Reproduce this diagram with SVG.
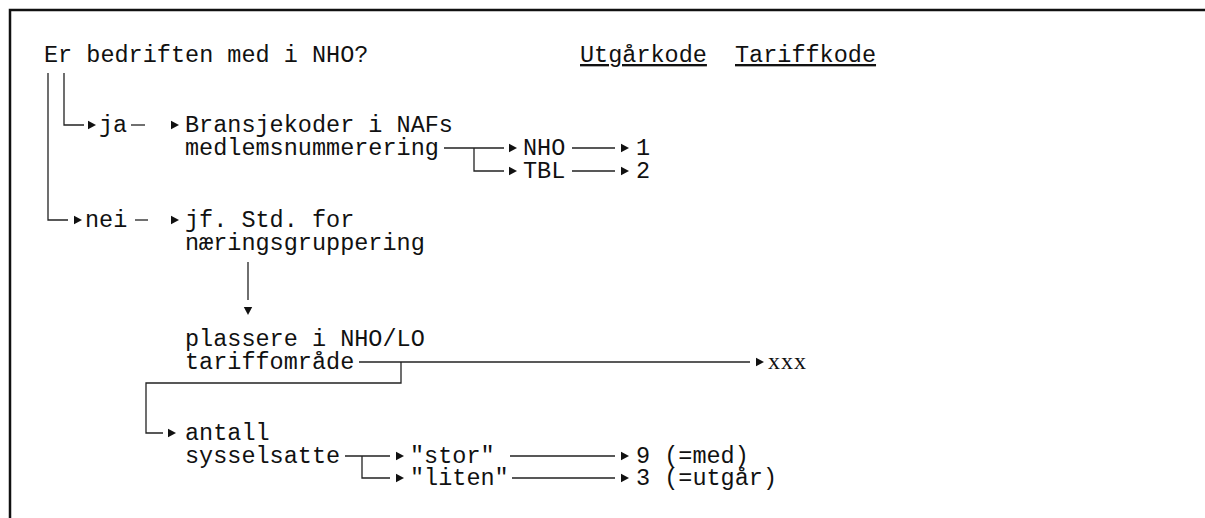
<svg xmlns="http://www.w3.org/2000/svg" xmlns:xlink="http://www.w3.org/1999/xlink" width="1205" height="518" viewBox="0 0 1205 518">
<style>
.t{font-family:"Liberation Mono","Courier New",monospace;font-size:23.5px;fill:#111}
.u{text-decoration:underline}
.x{font-family:"Liberation Serif","Times New Roman",serif;font-size:24px;fill:#111;letter-spacing:1px}
.c{stroke:#222;stroke-width:1.3;fill:none}
.b{stroke:#111;stroke-width:2.5;fill:none}
.ah{fill:#111}
</style>
<defs>
<path id="ah" class="ah" d="M0,-4.2 L8,0 L0,4.2 Z"/>
<path id="ahd" class="ah" d="M-4.2,0 L4.2,0 L0,8 Z"/>
</defs>
<rect width="1205" height="518" fill="#fff"/>
<path class="b" d="M10,518 V10 H1205"/>
<g id="q"><text class="t" x="44" y="62">Er bedriften med i NHO?</text></g>
<g id="h1"><text class="t u" x="580" y="62">Utgårkode</text></g>
<g id="h2"><text class="t u" x="735" y="62">Tariffkode</text></g>
<g id="ja"><text class="t" x="99" y="132">ja</text></g>
<g id="bransje"><text class="t" x="185" y="132">Bransjekoder i NAFs</text><text class="t" x="185" y="155">medlemsnummerering</text></g>
<g id="nho"><text class="t" x="523" y="155">NHO</text></g>
<g id="tbl"><text class="t" x="523" y="178">TBL</text></g>
<g id="k1"><text class="t" x="636" y="155">1</text></g>
<g id="k2"><text class="t" x="636" y="178">2</text></g>
<g id="nei"><text class="t" x="85" y="227">nei</text></g>
<g id="std"><text class="t" x="185" y="227">jf. Std. for</text><text class="t" x="185" y="250">næringsgruppering</text></g>
<g id="plassere"><text class="t" x="185" y="346">plassere i NHO/LO</text><text class="t" x="185" y="369">tariffområde</text></g>
<g id="xxx"><text class="x" x="768" y="369">xxx</text></g>
<g id="antall"><text class="t" x="185" y="440">antall</text><text class="t" x="185" y="463">sysselsatte</text></g>
<g id="stor"><text class="t" x="410" y="463">"stor"</text></g>
<g id="liten"><text class="t" x="410" y="485">"liten"</text></g>
<g id="k9"><text class="t" x="636" y="463">9 (=med)</text></g>
<g id="k3"><text class="t" x="636" y="485">3 (=utgår)</text></g>
<g id="connectors">
<path class="c" d="M64,73 V125 H84"/>
<use href="#ah" x="88" y="125"/>
<path class="c" d="M131,125 H145"/>
<use href="#ah" x="171" y="125"/>
<path class="c" d="M48,73 V220 H68"/>
<use href="#ah" x="74" y="220"/>
<path class="c" d="M135,220 H148"/>
<use href="#ah" x="171" y="220"/>
<path class="c" d="M444,148 H504 M474,148 V171 H504"/>
<use href="#ah" x="509" y="148"/>
<use href="#ah" x="509" y="171"/>
<path class="c" d="M572,148 H615 M572,171 H615"/>
<use href="#ah" x="621" y="148"/>
<use href="#ah" x="621" y="171"/>
<path class="c" d="M248,262 V300"/>
<use href="#ahd" x="248" y="307"/>
<path class="c" d="M359,362 H750"/>
<use href="#ah" x="756" y="362"/>
<path class="c" d="M401,362 V383 H146 V433 H163"/>
<use href="#ah" x="168" y="433"/>
<path class="c" d="M345,456 H390 M362,456 V478 H390"/>
<use href="#ah" x="396" y="456"/>
<use href="#ah" x="396" y="478"/>
<path class="c" d="M510,456 H615 M512,478 H615"/>
<use href="#ah" x="621" y="456"/>
<use href="#ah" x="621" y="478"/>
</g>
</svg>
